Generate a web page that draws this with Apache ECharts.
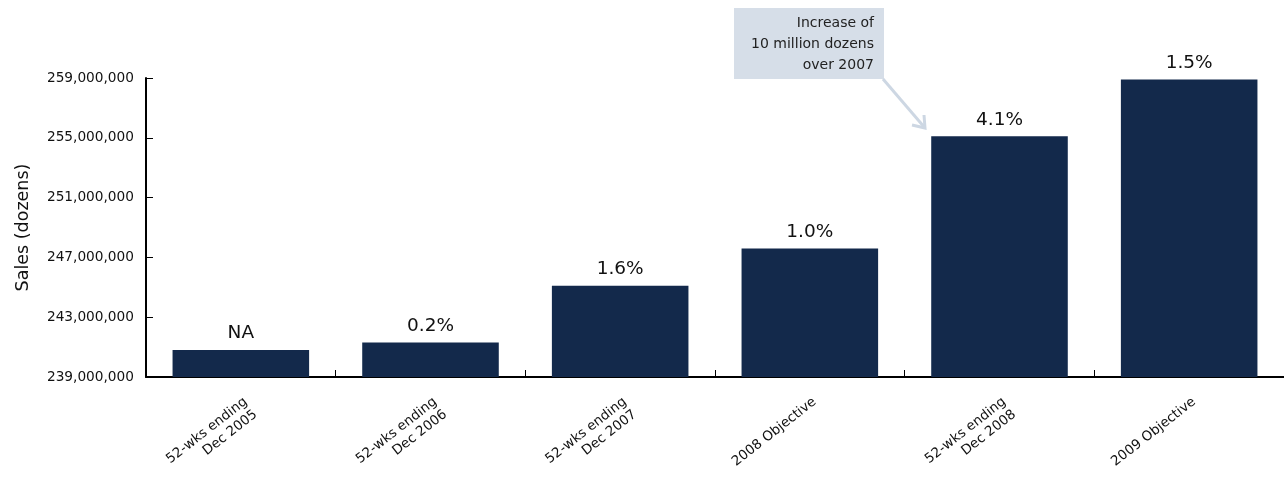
<!DOCTYPE html>
<html lang="en">
<head>
    <meta charset="utf-8">
    <script src="https://cdn.jsdelivr.net/npm/echarts@6/dist/echarts.min.js"></script>
    <style>
        html, body { margin: 0; padding: 0; background: #fff; }
        #main { width: 1284px; height: 478px; }
    </style>
</head>
<body>
<div id="main"></div>
<script>
    // categories and values
    var categories = [
        '52-wks ending\nDec 2005',
        '52-wks ending\nDec 2006',
        '52-wks ending\nDec 2007',
        '2008 Objective',
        '52-wks ending\nDec 2008',
        '2009 Objective'
    ];
    var sales = [240800000, 241300000, 245100000, 247600000, 255100000, 258900000];
    var changeLabels = ['NA', '0.2%', '1.6%', '1.0%', '4.1%', '1.5%'];
    var noteLines = ['Increase of', '10 million dozens', 'over 2007'];

    var navy = '#13294b';
    var noteColor = '#d6dee8';
    var arrowColor = '#cdd7e3';
    var font = 'DejaVu Sans';

    var myChart = echarts.init(document.getElementById('main'));
    var option = {
        animation: false,
        grid: { left: 146, right: 0, top: 78, bottom: 101, containLabel: false, outerBoundsMode: 'none' },
        xAxis: {
            type: 'category',
            data: categories,
            axisLine: { show: true, lineStyle: { color: '#000', width: 2 } },
            axisTick: { show: true, inside: true, length: 7, lineStyle: { color: '#000', width: 1 } },
            axisLabel: {
                rotate: 38,
                margin: 17,
                align: 'right',
                verticalAlign: 'top',
                color: '#111',
                fontSize: 13.5,
                fontFamily: font,
                lineHeight: 16
            }
        },
        yAxis: {
            type: 'value',
            name: 'Sales (dozens)',
            nameLocation: 'middle',
            nameGap: 114,
            nameTextStyle: { fontSize: 17.5, color: '#111', fontFamily: font },
            min: 239000000,
            max: 259000000,
            interval: 4000000,
            splitLine: { show: false },
            axisLine: { show: true, lineStyle: { color: '#000', width: 2 } },
            axisTick: { show: true, inside: true, length: 7, lineStyle: { color: '#000', width: 1 } },
            axisLabel: {
                margin: 12,
                color: '#111',
                fontSize: 13.7,
                fontFamily: font,
                formatter: function (v) { return v.toLocaleString('en-US'); }
            }
        },
        series: [{
            type: 'bar',
            data: sales,
            barWidth: '72%',
            itemStyle: { color: navy },
            label: {
                show: true,
                position: 'top',
                distance: 7,
                fontSize: 18.5,
                color: '#111',
                fontFamily: font,
                formatter: function (p) { return changeLabels[p.dataIndex]; }
            }
        }],
        graphic: [
            {
                type: 'rect',
                shape: { x: 734, y: 8, width: 150, height: 71 },
                style: { fill: noteColor }
            },
            {
                type: 'text',
                x: 874, y: 13,
                style: {
                    text: noteLines.join('\n'),
                    align: 'right',
                    fill: '#222',
                    fontSize: 14,
                    lineHeight: 21,
                    fontFamily: font
                }
            },
            {
                type: 'polyline',
                shape: { points: [[883, 79], [925, 128]] },
                style: { stroke: arrowColor, lineWidth: 3 }
            },
            {
                type: 'polyline',
                shape: { points: [[912, 125], [925, 128], [924, 115]] },
                style: { stroke: arrowColor, lineWidth: 3, fill: null }
            }
        ]
    };
    myChart.setOption(option);
</script>
</body>
</html>
